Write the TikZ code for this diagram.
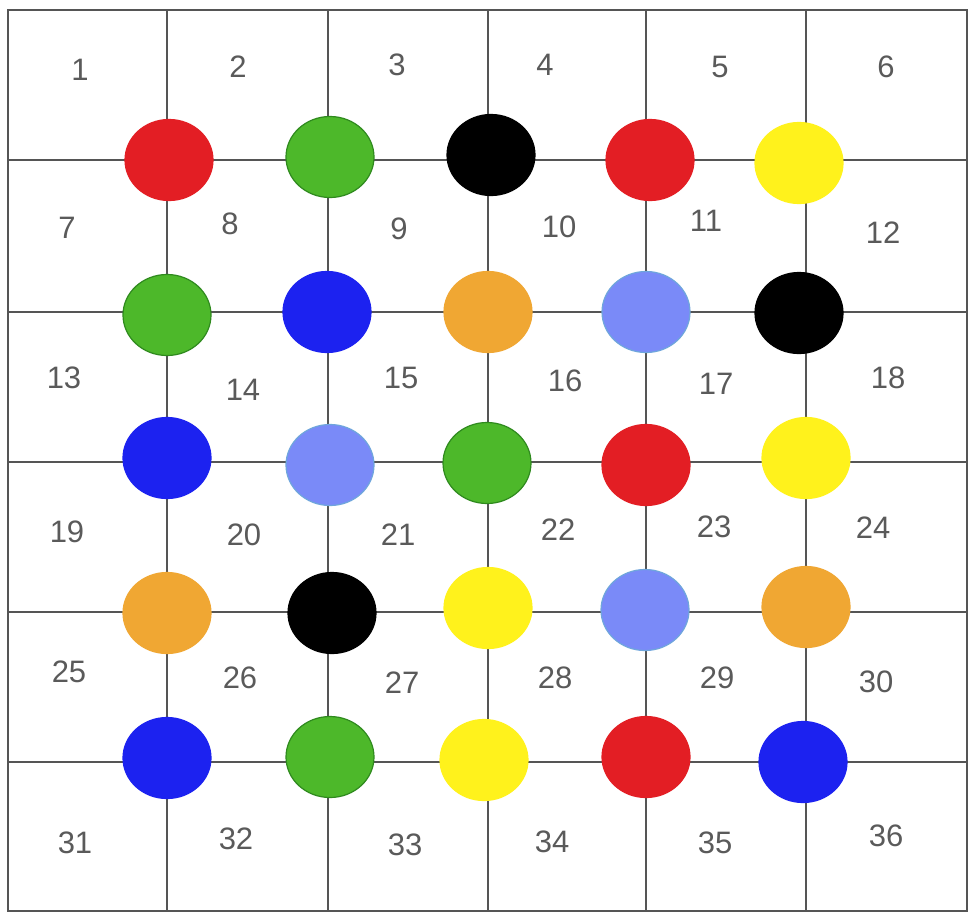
\documentclass[tikz,border=0pt]{standalone}
\usepackage{fontspec}
\setmainfont{Liberation Sans}
\definecolor{cred}{HTML}{E31E24}
\definecolor{cgreen}{HTML}{4DB82A}
\definecolor{cgreenE}{HTML}{2F8A1E}
\definecolor{cyellow}{HTML}{FFF21C}
\definecolor{cblue}{HTML}{1C22F0}
\definecolor{corange}{HTML}{F0A733}
\definecolor{clblue}{HTML}{7A8AF8}
\definecolor{clblueE}{HTML}{6FA6DC}
\definecolor{gridc}{HTML}{555555}
\definecolor{txtc}{HTML}{5A5A5A}
\begin{document}
\begin{tikzpicture}[x=1pt,y=-1pt,
  gridline/.style={draw=gridc,line width=1.8pt},
  dot/.style={ellipse,minimum width=88pt,minimum height=81pt,inner sep=0pt,line width=1.2pt},
  R/.style={dot,fill=cred,draw=cred},
  G/.style={dot,fill=cgreen,draw=cgreenE},
  K/.style={dot,fill=black,draw=black},
  Y/.style={dot,fill=cyellow,draw=cyellow},
  B/.style={dot,fill=cblue,draw=cblue},
  O/.style={dot,fill=corange,draw=corange},
  L/.style={dot,fill=clblue,draw=clblueE},
  num/.style={text=txtc,font=\fontsize{31}{34}\selectfont,inner sep=0pt}]
\usetikzlibrary{shapes.geometric}
\fill[white] (0,0) rectangle (971,913);
\useasboundingbox (0,0) rectangle (971,913);
% grid
\draw[gridline] (8,10) rectangle (967,911);
\foreach \x in {167,328,488,646,806} \draw[gridline] (\x,10) -- (\x,911);
\foreach \y in {160,312,462,612,762} \draw[gridline] (8,\y) -- (967,\y);
% labels
\foreach \n/\x/\y in {1/80/70,2/238/67,3/397/65,4/545/65,5/720/67,6/886/67,
  7/67/228,8/230/224,9/399/229,10/559/227,11/706/221,12/883/233,
  13/64/378,14/243/390,15/401/378,16/565/381,17/716/384,18/888/378,
  19/67/532,20/244/535,21/398/535,22/558/530,23/714/527,24/873/528,
  25/69/672,26/240/678,27/402/683,28/555/678,29/717/678,30/876/682,
  31/75/843,32/236/839,33/405/845,34/552/842,35/715/843,36/886/836}
  \node[num] (t\n) at (\x,\y) {\n};
% dots
\node[R] (d11) at (169,160) {};
\node[G] (d12) at (330,157) {};
\node[K] (d13) at (491,155) {};
\node[R] (d14) at (650,160) {};
\node[Y] (d15) at (799,163) {};
\node[G] (d21) at (167,315) {};
\node[B] (d22) at (327,312) {};
\node[O] (d23) at (488,312) {};
\node[L] (d24) at (646,312) {};
\node[K] (d25) at (799,313) {};
\node[B] (d31) at (167,458) {};
\node[L] (d32) at (330,465) {};
\node[G] (d33) at (487,463) {};
\node[R] (d34) at (646,465) {};
\node[Y] (d35) at (806,458) {};
\node[O] (d41) at (167,613) {};
\node[K] (d42) at (332,613) {};
\node[Y] (d43) at (488,608) {};
\node[L] (d44) at (645,610) {};
\node[O] (d45) at (806,607) {};
\node[B] (d51) at (167,758) {};
\node[G] (d52) at (330,757) {};
\node[Y] (d53) at (484,760) {};
\node[R] (d54) at (646,757) {};
\node[B] (d55) at (803,762) {};
\end{tikzpicture}
\end{document}
